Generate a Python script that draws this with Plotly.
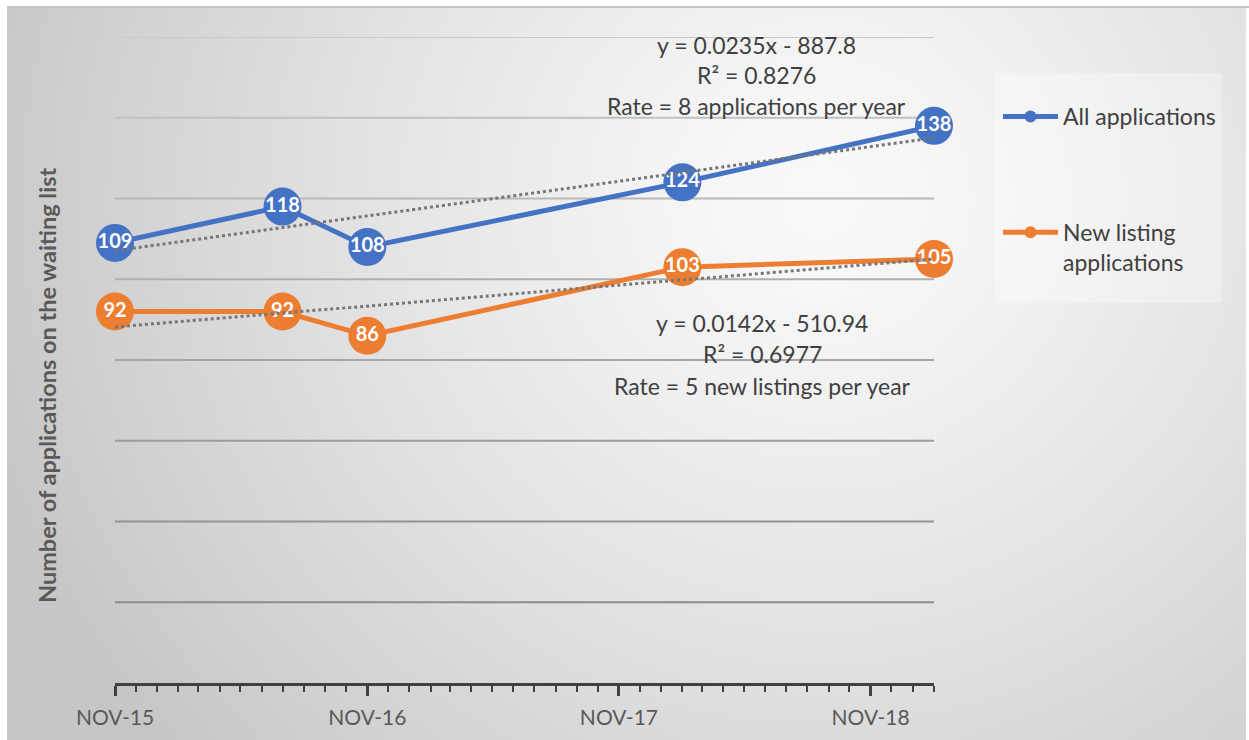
import base64
import struct
import zlib

import numpy as np
import pandas as pd
import plotly.graph_objects as go

# ---------------- data ----------------
dates = ["2015-11-01", "2016-07-01", "2016-11-01", "2018-02-01", "2019-02-01"]
all_apps = [109, 118, 108, 124, 138]
new_listing = [92, 92, 86, 103, 105]
series_names = ["All applications", "New listing<br>applications"]
tick_dates = ["2015-11-01", "2016-11-01", "2017-11-01", "2018-11-01"]
tick_labels = ["NOV-15", "NOV-16", "NOV-17", "NOV-18"]
grid_vals = [20, 40, 60, 80, 100, 120, 140, 160]
eq_all = ["y = 0.0235x - 887.8", "R² = 0.8276", "Rate = 8 applications per year"]
eq_new = ["y = 0.0142x - 510.94", "R² = 0.6977", "Rate = 5 new listings per year"]
y_title = "Number of applications on the waiting list"

BLUE = "#4472C4"
ORANGE = "#ED7D31"
FONT = "Lato"

W, H = 1249, 740
ML, MR, MT, MB = 115, 315, 37, 57
PW, PH = W - ML - MR, H - MT - MB


def px(x):
    return (x - ML) / PW


def py(y):
    return (H - MB - y) / PH


# ---------------- background gradient image ----------------
def png_gray(arr):
    h, w = arr.shape
    raw = b"".join(b"\x00" + arr[i].tobytes() for i in range(h))

    def chunk(t, d):
        c = struct.pack(">I", len(d)) + t + d
        return c + struct.pack(">I", zlib.crc32(t + d) & 0xFFFFFFFF)

    ihdr = struct.pack(">IIBBBBB", w, h, 8, 0, 0, 0, 0)
    return (b"\x89PNG\r\n\x1a\n" + chunk(b"IHDR", ihdr)
            + chunk(b"IDAT", zlib.compress(raw, 9)) + chunk(b"IEND", b""))


bx0, by0, bx1, by1 = 7, 7, 1246, 740
gw, gh = 310, 183
gx = bx0 + (np.arange(gw) + 0.5) * (bx1 - bx0) / gw
gy = by0 + (np.arange(gh) + 0.5) * (by1 - by0) / gh
GX, GY = np.meshgrid(gx, gy)
d = np.sqrt(((GX - 820) / 800) ** 2 + ((GY - 200) / 760) ** 2)
val = 250 - 46 * d ** 1.25
val = np.clip(val, 198, 250).astype(np.uint8)
bg_src = "data:image/png;base64," + base64.b64encode(png_gray(val)).decode()

# ---------------- trendlines ----------------
dt = pd.to_datetime(dates)
days = np.array([t.toordinal() for t in dt], dtype=float)
trend_x = [dates[0], dates[-1]]


def trend(vals):
    k, b = np.polyfit(days, np.array(vals, dtype=float), 1)
    return [k * days[0] + b, k * days[-1] + b]


fig = go.Figure()

for name, vals, col, grp in [(series_names[0], all_apps, BLUE, "a"),
                             (series_names[1], new_listing, ORANGE, "b")]:
    fig.add_trace(go.Scatter(
        x=dates, y=vals, name=name, legendgroup=grp,
        mode="lines+markers+text",
        line=dict(color=col, width=5),
        marker=dict(color=col, size=38),
        text=[str(v) for v in vals], textposition="middle center",
        textfont=dict(family=FONT, size=20, color="white", weight="bold"),
        cliponaxis=False,
    ))

for vals in [all_apps, new_listing]:
    fig.add_trace(go.Scatter(
        x=trend_x, y=trend(vals), mode="lines", showlegend=False,
        line=dict(color="#767676", width=3, dash="dot"),
        hoverinfo="skip", cliponaxis=False,
    ))

shapes = []
# gridlines with a light-to-dark gradient
for v in grid_vals:
    g = int(140 + (v - 20) / 140 * 62)
    shapes.append(dict(type="line", xref="paper", yref="y", x0=0, x1=1, y0=v, y1=v,
                       line=dict(color=f"rgb({g},{g},{g})", width=2), layer="below"))
# legend background
shapes.append(dict(type="rect", xref="paper", yref="paper",
                   x0=px(995), x1=px(1222), y0=py(303), y1=py(73),
                   fillcolor="rgba(255,255,255,0.32)", line=dict(width=0), layer="below"))
# top border of chart area
shapes.append(dict(type="line", xref="paper", yref="paper",
                   x0=px(7), x1=px(1249), y0=py(7), y1=py(7),
                   line=dict(color="#c4c4c4", width=2), layer="below"))

annotations = []
for lines, cx, ys in [(eq_all, 756, [45, 75, 106]), (eq_new, 762, [323, 354, 386])]:
    for t, yy in zip(lines, ys):
        annotations.append(dict(text=t, xref="paper", yref="paper", x=px(cx), y=py(yy),
                                xanchor="center", yanchor="middle", showarrow=False,
                                font=dict(family=FONT, size=23, color="#404040")))
annotations.append(dict(text=y_title, xref="paper", yref="paper", x=px(47), y=py(386),
                        xanchor="center", yanchor="middle", showarrow=False, textangle=-90,
                        font=dict(family=FONT, size=23.5, color="#595959", weight="bold")))

fig.update_layout(
    width=W, height=H,
    margin=dict(l=ML, r=MR, t=MT, b=MB, pad=0),
    paper_bgcolor="white", plot_bgcolor="rgba(0,0,0,0)",
    showlegend=True,
    legend=dict(x=px(998), y=py(95), xanchor="left", yanchor="top",
                bgcolor="rgba(0,0,0,0)", font=dict(family=FONT, size=23, color="#404040"),
                itemsizing="constant", itemwidth=55, tracegroupgap=83,
                traceorder="grouped", valign="top"),
    images=[dict(source=bg_src, xref="paper", yref="paper", x=px(bx0), y=py(by0),
                 sizex=(bx1 - bx0) / PW, sizey=(by1 - by0) / PH, xanchor="left",
                 yanchor="top", sizing="stretch", layer="below")],
    shapes=shapes,
    annotations=annotations,
    xaxis=dict(type="date", range=[dates[0], dates[-1]], showgrid=False, zeroline=False,
               automargin=False,
               tickvals=tick_dates, ticktext=tick_labels,
               tickfont=dict(family=FONT, size=21, color="#595959", weight="normal"),
               ticks="outside", ticklen=10, tickwidth=2.5, tickcolor="#404040",
               ticklabelstandoff=4,
               showline=True, linecolor="#404040", linewidth=3,
               minor=dict(ticks="outside", ticklen=6, tickwidth=2, tickcolor="#404040",
                          dtick="M1", tick0=dates[0], showgrid=False)),
    yaxis=dict(range=[0, 160], showgrid=False, zeroline=False, showticklabels=False,
               showline=False, ticks="", automargin=False),
)

fig.write_html("out.html")
